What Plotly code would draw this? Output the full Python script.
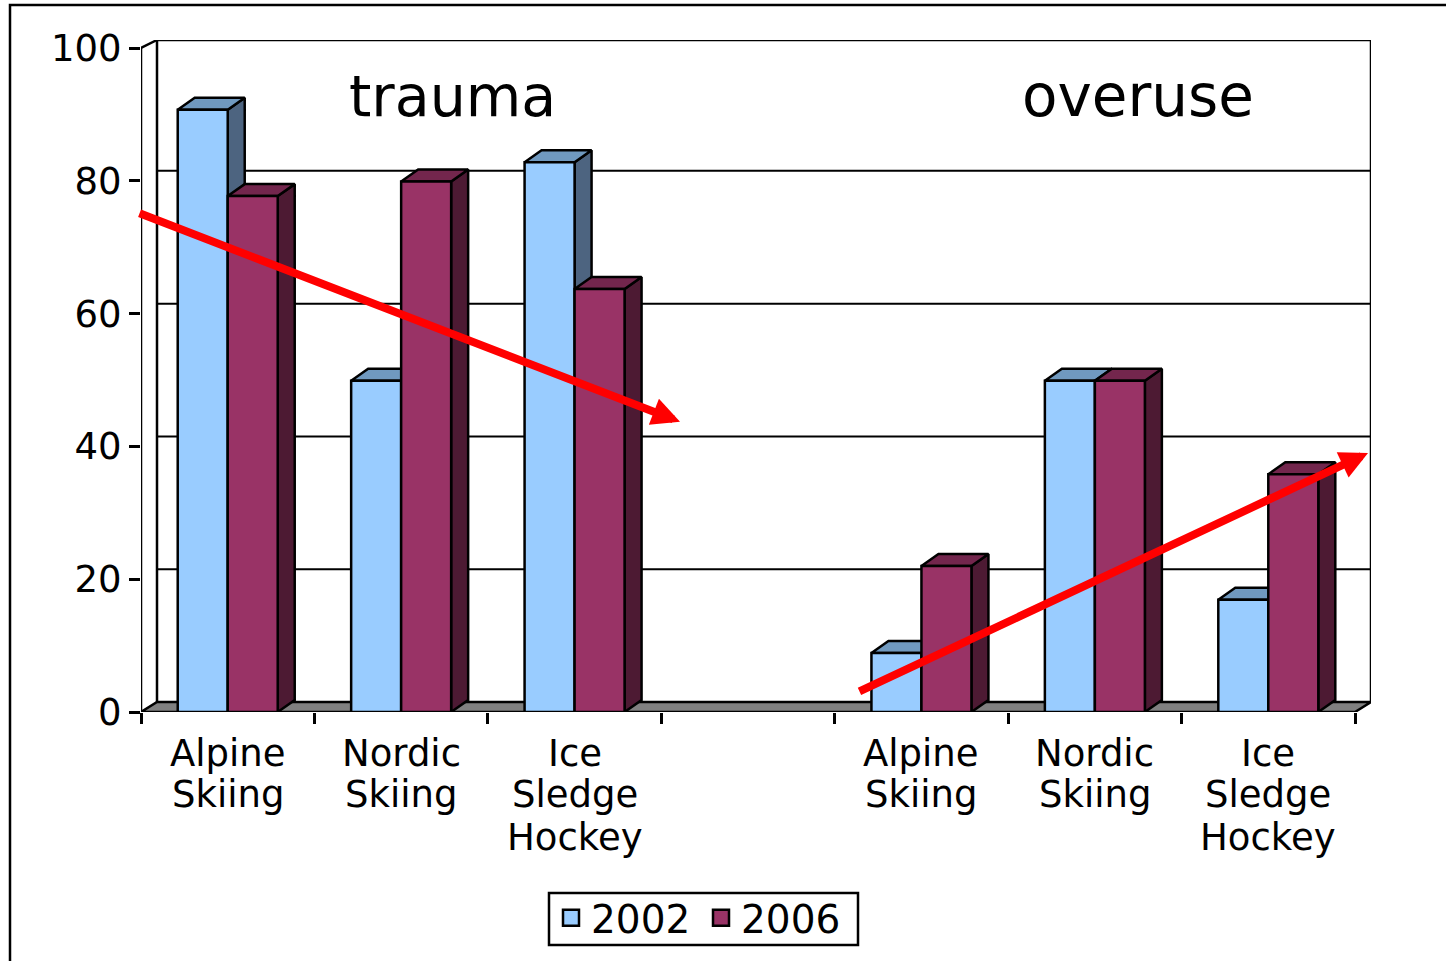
import plotly.graph_objects as go

category_lines = [["Alpine", "Skiing"], ["Nordic", "Skiing"], ["Ice", "Sledge", "Hockey"], [],
                  ["Alpine", "Skiing"], ["Nordic", "Skiing"], ["Ice", "Sledge", "Hockey"]]
slots = [0, 1, 2, 3, 4, 5, 6]
values_2002 = [90.7, 49.9, 82.8, None, 8.9, 49.9, 16.9]
values_2006 = [77.7, 79.9, 63.7, None, 22, 49.9, 35.8]
y_ticks = [0, 20, 40, 60, 80, 100]
grid_values = [20, 40, 60, 80]
series_names = ["2002", "2006"]
group_notes = ["trauma", "overuse"]

W, H = 1446, 961
L, R, T, B = 141, 1371, 40, 712
SLOT = 173.43
UNIT = 6.64
X0 = -0.5
XMAX = X0 + (R - L) / SLOT
YMAX = (B - T) / UNIT
WALL_DX, WALL_DY = 16 / SLOT, 1.5
BAR_DX, BAR_DY = 17 / SLOT, 1.8
BAR_W = 50 / SLOT
FONT = "DejaVu Sans"
FS = 37
LW = 2.5
LABEL_SHIFTS = [-41, -82, -125]

fig = go.Figure()


def line(xs, ys, width=LW):
    fig.add_trace(go.Scatter(x=xs, y=ys, mode="lines", line=dict(color="black", width=width),
                             showlegend=False, hoverinfo="skip", cliponaxis=False))


def poly(xs, ys, color):
    fig.add_trace(go.Scatter(x=xs, y=ys, mode="lines", fill="toself", fillcolor=color,
                             line=dict(color="black", width=LW), showlegend=False,
                             hoverinfo="skip", cliponaxis=False))


# floor and walls
poly([X0, X0 + WALL_DX, XMAX, XMAX - WALL_DX, X0], [0, WALL_DY, WALL_DY, 0, 0], "#808080")
for g in grid_values:
    line([X0 + WALL_DX, XMAX], [g + WALL_DY, g + WALL_DY], 2)
line([X0 + WALL_DX, X0 + WALL_DX, XMAX, XMAX], [WALL_DY, YMAX, YMAX, WALL_DY])
line([X0, X0], [0, 100])
line([X0, X0 + WALL_DX], [100, YMAX])


def depth_faces(values, shift, side_color, top_color):
    sx, sy, tx, ty = [], [], [], []
    for c, v in zip(slots, values):
        if v is None:
            continue
        xl = c + shift
        xr = xl + BAR_W
        sx += [xr, xr + BAR_DX, xr + BAR_DX, xr, xr, None]
        sy += [0, BAR_DY, v + BAR_DY, v, 0, None]
        tx += [xl, xl + BAR_DX, xr + BAR_DX, xr, xl, None]
        ty += [v, v + BAR_DY, v + BAR_DY, v, v, None]
    poly(sx, sy, side_color)
    poly(tx, ty, top_color)


depth_faces(values_2002, -BAR_W, "#4d6480", "#7099bf")
depth_faces(values_2006, 0, "#4d1a33", "#73264d")

# front faces on an overlaid subplot, so they cover the depth faces
for name, vals, color in zip(series_names, [values_2002, values_2006], ["#99ccff", "#993366"]):
    fig.add_trace(go.Bar(x=slots, y=vals, name=name, xaxis="x2", yaxis="y2", showlegend=False,
                         marker=dict(color=color, line=dict(color="black", width=LW))))
    fig.add_trace(go.Scatter(x=[None], y=[None], mode="markers", name=name,
                             marker=dict(symbol="square", size=20, color=color,
                                         line=dict(color="black", width=2.5))))

annotations = [
    dict(x=1.295, y=92.8, xref="x", yref="y", text=group_notes[0], showarrow=False,
         font=dict(family=FONT, size=57)),
    dict(x=5.249, y=92.8, xref="x", yref="y", text=group_notes[1], showarrow=False,
         font=dict(family=FONT, size=58)),
    dict(x=2.608, y=43.7, ax=-0.517, ay=75.2, xref="x", yref="y", axref="x", ayref="y", text="",
         showarrow=True, arrowhead=2, arrowsize=0.7, arrowwidth=8, arrowcolor="#ff0000", standoff=0),
    dict(x=6.575, y=39.0, ax=3.634, ay=3.0, xref="x", yref="y", axref="x", ayref="y", text="",
         showarrow=True, arrowhead=2, arrowsize=0.7, arrowwidth=8, arrowcolor="#ff0000", standoff=0),
]
for slot, lines in zip(slots, category_lines):
    for text, shift in zip(lines, LABEL_SHIFTS):
        annotations.append(dict(x=slot, y=0, xref="x", yref="y", text=text, showarrow=False,
                                yshift=shift, yanchor="middle",
                                font=dict(family=FONT, size=FS)))

tick_bounds = [X0 + i for i in range(8)]
fig.update_layout(
    width=W, height=H, autosize=False,
    margin=dict(l=L, r=W - R, t=T, b=H - B),
    paper_bgcolor="white", plot_bgcolor="white",
    font=dict(family=FONT, size=FS, color="black"),
    barmode="group", bargap=1 - 2 * BAR_W, bargroupgap=0,
    xaxis=dict(range=[X0, XMAX], tickvals=tick_bounds, ticktext=[""] * 8, ticks="outside",
               ticklen=11, tickwidth=2.5, tickcolor="black", showgrid=False, zeroline=False,
               showline=False),
    yaxis=dict(range=[0, YMAX], tickvals=y_ticks, ticks="outside", ticklen=11, tickwidth=2.5,
               tickcolor="black", showgrid=False, zeroline=False, showline=False,
               ticklabelstandoff=0),
    xaxis2=dict(range=[X0, XMAX], overlaying="x", anchor="y2", showticklabels=False,
                ticks="", showgrid=False, zeroline=False, showline=False),
    yaxis2=dict(range=[0, YMAX], overlaying="y", anchor="x2", showticklabels=False, ticks="",
                showgrid=False, zeroline=False, showline=False),
    showlegend=True,
    legend=dict(orientation="h", xref="container", yref="container", x=551 / W, y=(H - 886) / H,
                xanchor="left", yanchor="top", borderwidth=0, bgcolor="rgba(0,0,0,0)",
                font=dict(family=FONT, size=39), itemwidth=30, entrywidth=105,
                entrywidthmode="pixels", tracegroupgap=0),
    shapes=[
        dict(type="rect", xref="paper", yref="paper",
             x0=(10 - L) / (R - L), x1=(W + 20 - L) / (R - L),
             y0=(B - H - 20) / (B - T), y1=(B - 5) / (B - T),
             line=dict(color="black", width=2.5), fillcolor="rgba(0,0,0,0)"),
        dict(type="rect", xref="paper", yref="paper",
             x0=(549 - L) / (R - L), x1=(858 - L) / (R - L),
             y0=(B - 945) / (B - T), y1=(B - 893) / (B - T),
             line=dict(color="black", width=2.5), fillcolor="rgba(0,0,0,0)"),
    ],
    annotations=annotations,
)

fig.write_html("out.html", config=dict(displayModeBar=False),
               post_script="document.body.style.margin='0';document.body.style.overflow='hidden';")
